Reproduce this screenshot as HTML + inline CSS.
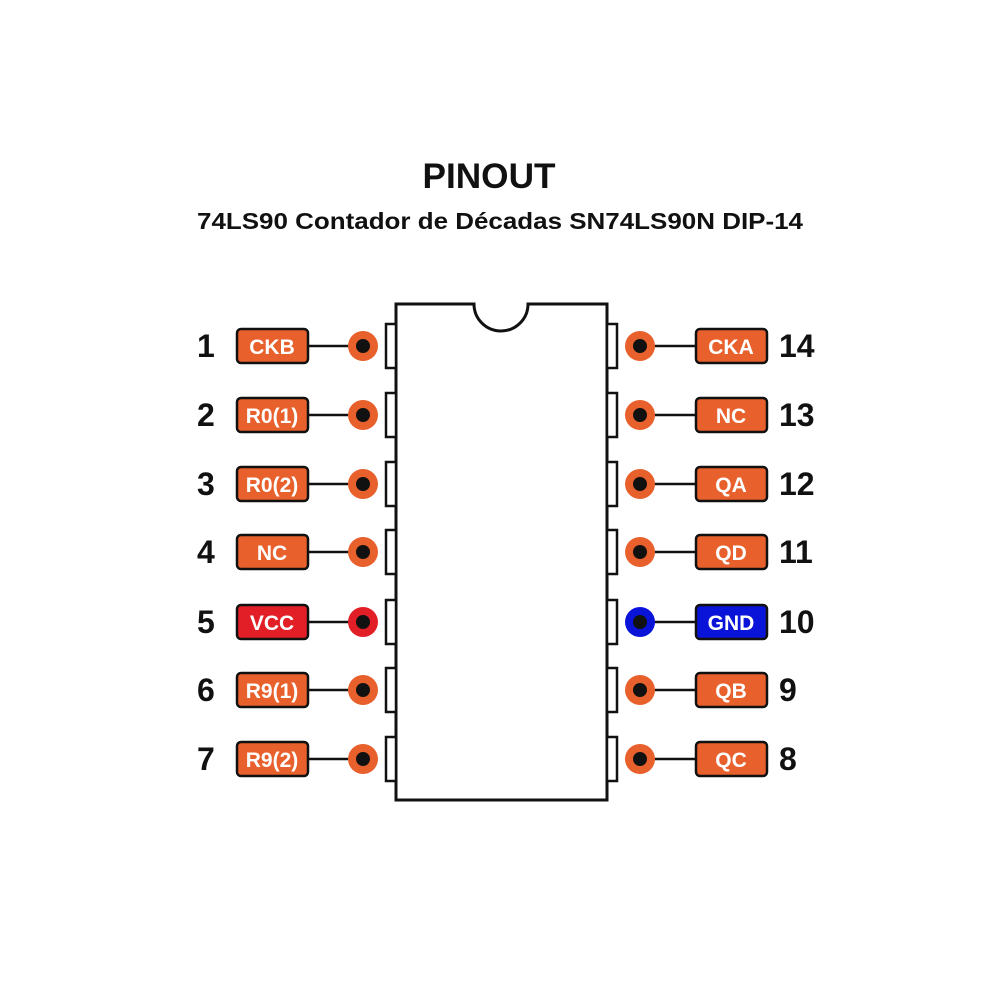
<!DOCTYPE html>
<html><head><meta charset="utf-8"><style>
html,body{margin:0;padding:0;background:#fff;}
svg{display:block;}
text{font-family:"Liberation Sans",sans-serif;font-weight:bold;}
.lb{fill:#fff;font-size:21px;text-anchor:middle;}
.num{fill:#111;font-size:32px;}
.box{stroke:#111;stroke-width:2.5;}
.tab{fill:#fff;stroke:#111;stroke-width:2.5;}
.ln{stroke:#111;stroke-width:2.5;}
</style></head><body>
<svg width="1000" height="1000" viewBox="0 0 1000 1000" xmlns="http://www.w3.org/2000/svg">
<text x="489" y="188" font-size="35" text-anchor="middle" fill="#111" textLength="133" lengthAdjust="spacingAndGlyphs">PINOUT</text>
<text x="500" y="229" font-size="23" text-anchor="middle" fill="#111" textLength="606" lengthAdjust="spacingAndGlyphs">74LS90 Contador de Décadas SN74LS90N DIP-14</text>

<path d="M396 304 H474 A27 27 0 0 0 528 304 H607 V800 H396 Z" fill="#fff" stroke="#111" stroke-width="3"/>

<g>
<rect class="tab" x="386" y="324" width="10" height="44"/><line class="ln" x1="308" y1="346" x2="363" y2="346"/><circle cx="363" cy="346" r="15" fill="#E8602C"/><circle cx="363" cy="346" r="7" fill="#111"/><rect class="box" x="237" y="329" width="71" height="34" rx="4" fill="#E8602C"/><text class="lb" x="272" y="354">CKB</text><text class="num" x="197" y="357">1</text>
<rect class="tab" x="386" y="393" width="10" height="44"/><line class="ln" x1="308" y1="415" x2="363" y2="415"/><circle cx="363" cy="415" r="15" fill="#E8602C"/><circle cx="363" cy="415" r="7" fill="#111"/><rect class="box" x="237" y="398" width="71" height="34" rx="4" fill="#E8602C"/><text class="lb" x="272" y="423">R0(1)</text><text class="num" x="197" y="426">2</text>
<rect class="tab" x="386" y="462" width="10" height="44"/><line class="ln" x1="308" y1="484" x2="363" y2="484"/><circle cx="363" cy="484" r="15" fill="#E8602C"/><circle cx="363" cy="484" r="7" fill="#111"/><rect class="box" x="237" y="467" width="71" height="34" rx="4" fill="#E8602C"/><text class="lb" x="272" y="492">R0(2)</text><text class="num" x="197" y="495">3</text>
<rect class="tab" x="386" y="530" width="10" height="44"/><line class="ln" x1="308" y1="552" x2="363" y2="552"/><circle cx="363" cy="552" r="15" fill="#E8602C"/><circle cx="363" cy="552" r="7" fill="#111"/><rect class="box" x="237" y="535" width="71" height="34" rx="4" fill="#E8602C"/><text class="lb" x="272" y="560">NC</text><text class="num" x="197" y="563">4</text>
<rect class="tab" x="386" y="600" width="10" height="44"/><line class="ln" x1="308" y1="622" x2="363" y2="622"/><circle cx="363" cy="622" r="15" fill="#E21F26"/><circle cx="363" cy="622" r="7" fill="#111"/><rect class="box" x="237" y="605" width="71" height="34" rx="4" fill="#E21F26"/><text class="lb" x="272" y="630">VCC</text><text class="num" x="197" y="633">5</text>
<rect class="tab" x="386" y="668" width="10" height="44"/><line class="ln" x1="308" y1="690" x2="363" y2="690"/><circle cx="363" cy="690" r="15" fill="#E8602C"/><circle cx="363" cy="690" r="7" fill="#111"/><rect class="box" x="237" y="673" width="71" height="34" rx="4" fill="#E8602C"/><text class="lb" x="272" y="698">R9(1)</text><text class="num" x="197" y="701">6</text>
<rect class="tab" x="386" y="737" width="10" height="44"/><line class="ln" x1="308" y1="759" x2="363" y2="759"/><circle cx="363" cy="759" r="15" fill="#E8602C"/><circle cx="363" cy="759" r="7" fill="#111"/><rect class="box" x="237" y="742" width="71" height="34" rx="4" fill="#E8602C"/><text class="lb" x="272" y="767">R9(2)</text><text class="num" x="197" y="770">7</text>
</g>

<g>
<rect class="tab" x="607" y="324" width="10" height="44"/><line class="ln" x1="640" y1="346" x2="696" y2="346"/><circle cx="640" cy="346" r="15" fill="#E8602C"/><circle cx="640" cy="346" r="7" fill="#111"/><rect class="box" x="696" y="329" width="71" height="34" rx="4" fill="#E8602C"/><text class="lb" x="731" y="354">CKA</text><text class="num" x="779" y="357">14</text>
<rect class="tab" x="607" y="393" width="10" height="44"/><line class="ln" x1="640" y1="415" x2="696" y2="415"/><circle cx="640" cy="415" r="15" fill="#E8602C"/><circle cx="640" cy="415" r="7" fill="#111"/><rect class="box" x="696" y="398" width="71" height="34" rx="4" fill="#E8602C"/><text class="lb" x="731" y="423">NC</text><text class="num" x="779" y="426">13</text>
<rect class="tab" x="607" y="462" width="10" height="44"/><line class="ln" x1="640" y1="484" x2="696" y2="484"/><circle cx="640" cy="484" r="15" fill="#E8602C"/><circle cx="640" cy="484" r="7" fill="#111"/><rect class="box" x="696" y="467" width="71" height="34" rx="4" fill="#E8602C"/><text class="lb" x="731" y="492">QA</text><text class="num" x="779" y="495">12</text>
<rect class="tab" x="607" y="530" width="10" height="44"/><line class="ln" x1="640" y1="552" x2="696" y2="552"/><circle cx="640" cy="552" r="15" fill="#E8602C"/><circle cx="640" cy="552" r="7" fill="#111"/><rect class="box" x="696" y="535" width="71" height="34" rx="4" fill="#E8602C"/><text class="lb" x="731" y="560">QD</text><text class="num" x="779" y="563">11</text>
<rect class="tab" x="607" y="600" width="10" height="44"/><line class="ln" x1="640" y1="622" x2="696" y2="622"/><circle cx="640" cy="622" r="15" fill="#0A14D8"/><circle cx="640" cy="622" r="7" fill="#111"/><rect class="box" x="696" y="605" width="71" height="34" rx="4" fill="#0A14D8"/><text class="lb" x="731" y="630">GND</text><text class="num" x="779" y="633">10</text>
<rect class="tab" x="607" y="668" width="10" height="44"/><line class="ln" x1="640" y1="690" x2="696" y2="690"/><circle cx="640" cy="690" r="15" fill="#E8602C"/><circle cx="640" cy="690" r="7" fill="#111"/><rect class="box" x="696" y="673" width="71" height="34" rx="4" fill="#E8602C"/><text class="lb" x="731" y="698">QB</text><text class="num" x="779" y="701">9</text>
<rect class="tab" x="607" y="737" width="10" height="44"/><line class="ln" x1="640" y1="759" x2="696" y2="759"/><circle cx="640" cy="759" r="15" fill="#E8602C"/><circle cx="640" cy="759" r="7" fill="#111"/><rect class="box" x="696" y="742" width="71" height="34" rx="4" fill="#E8602C"/><text class="lb" x="731" y="767">QC</text><text class="num" x="779" y="770">8</text>
</g>
</svg>
</body></html>
